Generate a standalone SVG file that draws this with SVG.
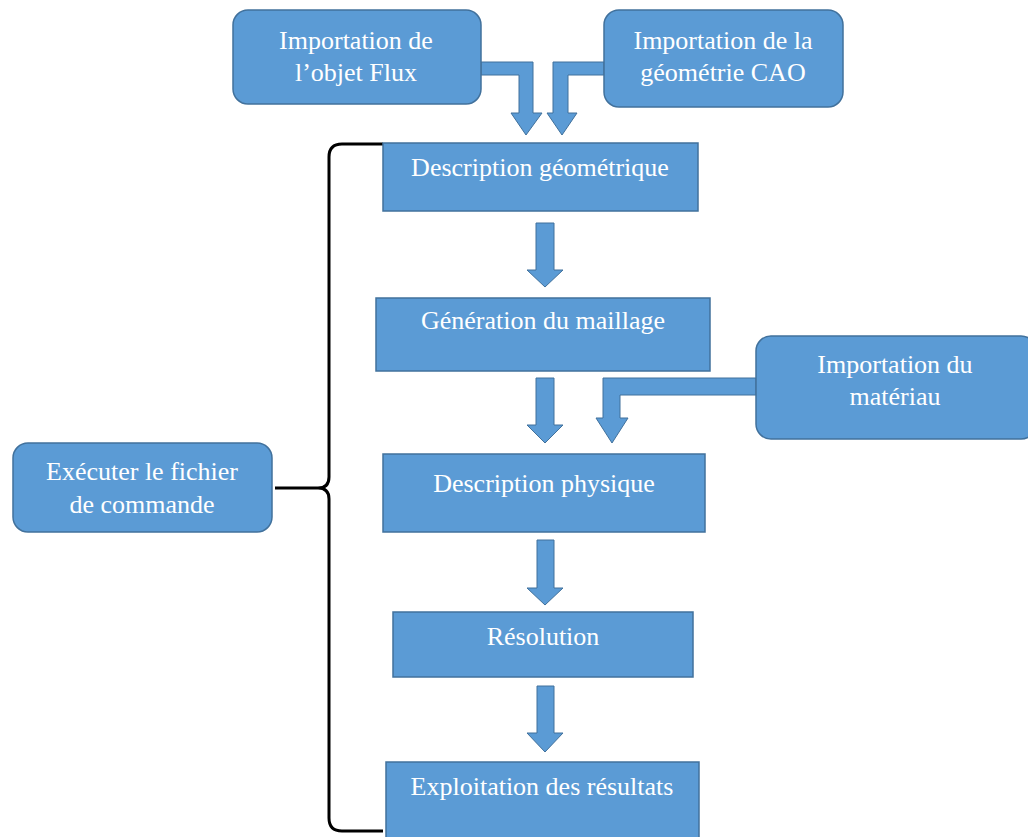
<svg xmlns="http://www.w3.org/2000/svg" width="1028" height="837" viewBox="0 0 1028 837">
<style>
.box{fill:#5B9BD5;stroke:#41719C;stroke-width:1.5}
.arr{fill:#5B9BD5;stroke:#41719C;stroke-width:1}
.t{font-family:"Liberation Serif","Times New Roman",serif;font-size:26px;fill:#ffffff;text-anchor:middle}
.brace{fill:none;stroke:#000000;stroke-width:3}
</style>
<rect width="1028" height="837" fill="#ffffff"/>
<g id="connectors">
<polygon class="arr" points="481,62 533,62 533,113 542,113 526,135 511,113 519,113 519,75 481,75"/>
<polygon class="arr" points="604,62 553,62 553,113 547,113 562,135 577,113 568,113 568,75 604,75"/>
<polygon class="arr" points="536,223 554,223 554,270 563,270 545,287 527,270 536,270"/>
<polygon class="arr" points="536,378 554,378 554,425 563,425 545,443 527,425 536,425"/>
<polygon class="arr" points="756,378 603,378 603,418 596,418 612,443 628,418 620,418 620,395 756,395"/>
<polygon class="arr" points="537,540 554,540 554,588 563,588 545,605 527,588 537,588"/>
<polygon class="arr" points="537,686 554,686 554,733 563,733 545,752 527,733 537,733"/>
<path class="brace" d="M383,144 L342,144 Q329,144 329,157 L329,477 Q329,488 318,488 L275,488 M318,488 Q329,488 329,499 L329,818 Q329,831 342,831 L383,831"/>
</g>
<g id="import-flux">
<rect class="box" x="233" y="10" width="248" height="94" rx="15"/>
<text class="t" x="356" y="49">Importation de</text>
<text class="t" x="356" y="81">l’objet Flux</text>
</g>
<g id="import-cao">
<rect class="box" x="604" y="10" width="239" height="97" rx="15"/>
<text class="t" x="723" y="49">Importation de la</text>
<text class="t" x="723" y="81">géométrie CAO</text>
</g>
<g id="desc-geom">
<rect class="box" x="383" y="143" width="315" height="68"/>
<text class="t" x="540" y="176">Description géométrique</text>
</g>
<g id="maillage">
<rect class="box" x="376" y="298" width="334" height="73"/>
<text class="t" x="543" y="329">Génération du maillage</text>
</g>
<g id="import-materiau">
<rect class="box" x="756" y="336" width="280" height="103" rx="15"/>
<text class="t" x="895" y="373">Importation du</text>
<text class="t" x="895" y="405">matériau</text>
</g>
<g id="executer">
<rect class="box" x="13" y="443" width="259" height="89" rx="15"/>
<text class="t" x="142" y="480">Exécuter le fichier</text>
<text class="t" x="142" y="513">de commande</text>
</g>
<g id="desc-phys">
<rect class="box" x="383" y="454" width="322" height="78"/>
<text class="t" x="544" y="492">Description physique</text>
</g>
<g id="resolution">
<rect class="box" x="393" y="612" width="300" height="65"/>
<text class="t" x="543" y="645">Résolution</text>
</g>
<g id="exploitation">
<rect class="box" x="386" y="762" width="313" height="85"/>
<text class="t" x="542" y="795">Exploitation des résultats</text>
</g>
</svg>
